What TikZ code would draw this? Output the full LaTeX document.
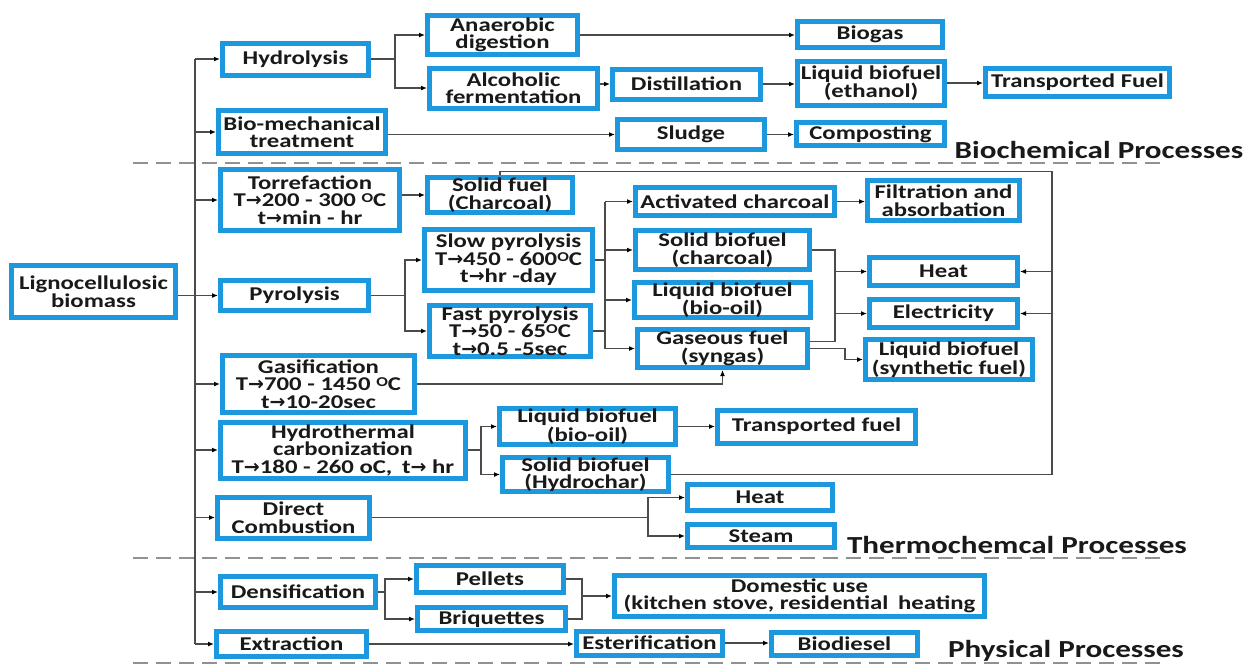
\documentclass[tikz,border=0pt]{standalone}
\usepackage{fontspec}
\setmainfont{Carlito}[FakeStretch=1.27]
\newfontfamily\djv{DejaVu Sans}
\usetikzlibrary{arrows.meta}
\definecolor{boxblue}{RGB}{28,152,222}
\definecolor{lnc}{RGB}{75,75,75}
\definecolor{dshc}{RGB}{145,145,145}
\definecolor{txt}{RGB}{25,25,25}
\newcommand\rarr{{\djv\fontsize{19}{17}\selectfont →}}
\newcommand\degO{\raisebox{3.8pt}{\fontsize{13.5}{13.5}\selectfont O}}
\newcommand\bxfont{\fontsize{19.5}{17.5}\selectfont\bfseries}
\newcommand\secfont{\fontsize{24.5}{26}\selectfont\bfseries}
\pgfdeclarelayer{bgzero}
\pgfdeclarelayer{bgone}
\pgfsetlayers{bgzero,bgone,main}
\begin{document}
\begin{tikzpicture}[x=1pt,y=-1pt,
  bx/.style={draw=boxblue,line width=5pt,fill=white,inner sep=0pt,align=center,font=\bxfont,text=txt},
  wh/.style 2 args={minimum width=#1pt-5pt,minimum height=#2pt-5pt},
  ln/.style={draw=lnc,line width=1.3pt},
  arr/.style={ln,-{Latex[length=6pt,width=5pt,color=black]}},
  dsh/.style={draw=dshc,line width=2pt,dash pattern=on 15pt off 8pt},
  sec/.style={font=\secfont,text=txt,inner sep=0pt}]
\useasboundingbox (0,0) rectangle (1254,665);
\begin{pgfonlayer}{bgzero}
\fill[white] (0,0) rectangle (1254,665);
\end{pgfonlayer}

% separators
\draw[dsh] (133,163) -- (1163,163);
\draw[dsh] (133,558) -- (1163,558);
\draw[dsh] (133,663) -- (1163,663);

% section labels
\node[sec] (lbBio) at (1099,150) {Biochemical Processes};
\node[sec] (lbThe) at (1017,545) {Thermochemcal Processes};
\node[sec] (lbPhy) at (1066,651) {Physical Processes};

% first level
\node[bx,wh={169}{57}] (ligno) at (93.5,291.5) {Lignocellulosic\\biomass};
\node[bx,wh={151}{37}] (hyd) at (295.5,59) {Hydrolysis};
\node[bx,wh={172}{48}] (biomech) at (302,132) {Bio-mechanical\\treatment};
\node[bx,wh={184}{66}] (torr) at (310,200) {Torrefaction\\T\rarr200 - 300 \degO C\\t\rarr min - hr};
\node[bx,wh={153}{35}] (pyro) at (294.5,295.5) {Pyrolysis};
\node[bx,wh={197}{62}] (gasif) at (318.5,384) {Gasification\\T\rarr700 - 1450 \degO C\\t\rarr10-20sec};
\node[bx,wh={250}{61}] (hydro) at (343,450) {Hydrothermal\\carbonization\\T\rarr180 - 260 oC,\enspace t\rarr\ hr};
\node[bx,wh={157}{46}] (direct) at (293.5,517.5) {Direct\\Combustion};
\node[bx,wh={160}{36}] (dens) at (298,592) {Densification};
\node[bx,wh={155}{30}] (extr) at (291.5,644) {Extraction};

% biochemical
\node[bx,wh={155}{44}] (anaer) at (502.5,35) {Anaerobic\\digestion};
\node[bx,wh={173}{45}] (alco) at (513.5,88) {Alcoholic\\fermentation};
\node[bx,wh={153}{35}] (dist) at (686.5,84) {Distillation};
\node[bx,wh={150}{31}] (biogas) at (870,34) {Biogas};
\node[bx,wh={152}{49}] (ethanol) at (871,83) {Liquid biofuel\\(ethanol)};
\node[bx,wh={189}{33}] (transF) at (1077.5,82) {Transported Fuel};
\node[bx,wh={152}{35}] (sludge) at (691,134.5) {Sludge};
\node[bx,wh={153}{28}] (compost) at (870.5,134) {Composting};

% thermochemical
\node[bx,wh={150}{36}] (solidf) at (500,195) {Solid fuel\\(Charcoal)};
\node[bx,wh={173}{66}] (slow) at (508.5,260) {Slow pyrolysis\\T\rarr450 - 600\degO C\\t\rarr hr -day};
\node[bx,wh={166}{56}] (fast) at (510,331) {Fast pyrolysis\\T\rarr 50 - 65\degO C\\t\rarr0.5 -5sec};
\node[bx,wh={204}{33}] (activ) at (735,201.5) {Activated charcoal};
\node[bx,wh={157}{45}] (filtr) at (943.5,200.5) {Filtration and\\absorbation};
\node[bx,wh={179}{44}] (sbchar) at (722.5,250) {Solid biofuel\\(charcoal)};
\node[bx,wh={181}{40}] (lbio) at (722.5,300) {Liquid biofuel\\(bio-oil)};
\node[bx,wh={175}{43}] (gas) at (722.5,348.5) {Gaseous fuel\\(syngas)};
\node[bx,wh={153}{33}] (heatA) at (943.5,271.5) {Heat};
\node[bx,wh={153}{33}] (elec) at (943.5,313.5) {Electricity};
\node[bx,wh={172}{45}] (synth) at (949,359.5) {Liquid biofuel\\(synthetic fuel)};
\node[bx,wh={181}{41}] (lbioB) at (587.5,426.5) {Liquid biofuel\\(bio-oil)};
\node[bx,wh={171}{39}] (hchar) at (585.5,474.5) {Solid biofuel\\(Hydrochar)};
\node[bx,wh={203}{38}] (transB) at (816.5,426.5) {Transported fuel};
\node[bx,wh={150}{31}] (heatB) at (760,497.5) {Heat};
\node[bx,wh={152}{28}] (steam) at (761,536) {Steam};

% physical
\node[bx,wh={152}{32}] (pellets) at (490,579) {Pellets};
\node[bx,wh={153}{28}] (briq) at (491.5,619) {Briquettes};
\node[bx,wh={375}{46}] (domestic) at (799.5,596) {Domestic use\\(kitchen stove, residential\enspace heating};
\node[bx,wh={151}{29}] (ester) at (649.5,643) {Esterification};
\node[bx,wh={151}{28}] (biodiesel) at (844.5,644) {Biodiesel};

% branch coordinates
\coordinate (trunk) at (195,0);
\coordinate (sHyd) at (395,0);
\coordinate (sPyr) at (405,0);
\coordinate (sPyB) at (605,0);
\coordinate (sChr) at (835,0);
\coordinate (sSyn) at (845,0);
\coordinate (sLoop) at (1052,0);
\coordinate (sHtc) at (481,0);
\coordinate (sDir) at (648,0);
\coordinate (sDen) at (385,0);
\coordinate (sPel) at (582,0);
\coordinate (gasUp) at ([yshift=7pt]gas.east);
\coordinate (sfTop) at ([yshift=4pt]solidf.north);

\begin{pgfonlayer}{bgone}
% trunk
\draw[ln] (trunk |- hyd.west) -- (trunk |- extr.west);
\draw[arr] (ligno.east |- pyro.west) -- (pyro.west);
\foreach \n in {hyd,biomech,torr,gasif,hydro,direct,dens,extr}
  \draw[arr] (trunk |- \n.west) -- (\n.west);

% biochemical
\draw[arr] (hyd.east) -| (sHyd |- anaer.west) -- (anaer.west);
\draw[arr] (hyd.east) -| (sHyd |- alco.west) -- (alco.west);
\draw[arr] (anaer.east) -- (biogas.west |- anaer.east);
\draw[arr] (alco.east |- dist.west) -- (dist.west);
\draw[arr] (dist.east) -- (ethanol.west |- dist.east);
\draw[arr] (ethanol.east) -- (transF.west |- ethanol.east);
\draw[arr] (biomech.east |- sludge.west) -- (sludge.west);
\draw[arr] (sludge.east) -- (compost.west |- sludge.east);

% torrefaction
\draw[arr] (torr.east |- solidf.west) -- (solidf.west);

% pyrolysis
\draw[arr] (pyro.east) -| (sPyr |- slow.west) -- (slow.west);
\draw[arr] (pyro.east) -| (sPyr |- fast.west) -- (fast.west);
\draw[ln] (slow.east) -- (sPyB |- slow.east);
\draw[ln] (fast.east) -- (sPyB |- fast.east);
\draw[ln] (sPyB |- activ.west) -- (sPyB |- gas.west);
\foreach \n in {activ,sbchar,lbio,gas}
  \draw[arr] (sPyB |- \n.west) -- (\n.west);
\draw[arr] (activ.east) -- (filtr.west |- activ.east);
\draw[ln] (sbchar.east) -| (sChr |- gasUp) -- (gasUp);
\draw[arr] (sChr |- heatA.west) -- (heatA.west);
\draw[arr] (sChr |- elec.west) -- (elec.west);
\draw[arr] (gas.east) -| (sSyn |- synth.west) -- (synth.west);

% gasification
\draw[arr] (gasif.east) -| (gas.south);

% loop
\draw[ln] (solidf.north) -- (sfTop) -| (sLoop |- hchar.east) -- (hchar.east);
\draw[arr] (sLoop |- heatA.east) -- (heatA.east);
\draw[arr] (sLoop |- elec.east) -- (elec.east);

% hydrothermal
\draw[arr] (hydro.east) -| (sHtc |- lbioB.west) -- (lbioB.west);
\draw[arr] (hydro.east) -| (sHtc |- hchar.west) -- (hchar.west);
\draw[arr] (lbioB.east) -- (transB.west |- lbioB.east);

% direct combustion
\draw[arr] (direct.east) -| (sDir |- heatB.west) -- (heatB.west);
\draw[arr] (direct.east) -| (sDir |- steam.west) -- (steam.west);

% physical
\draw[arr] (dens.east) -| (sDen |- pellets.west) -- (pellets.west);
\draw[arr] (dens.east) -| (sDen |- briq.west) -- (briq.west);
\draw[ln] (pellets.east) -| (sPel |- briq.east) -- (briq.east);
\draw[arr] (sPel |- domestic.west) -- (domestic.west);
\draw[arr] (extr.east) -- (ester.west |- extr.east);
\draw[arr] (ester.east) -- (biodiesel.west |- ester.east);
\end{pgfonlayer}
\end{tikzpicture}
\end{document}
